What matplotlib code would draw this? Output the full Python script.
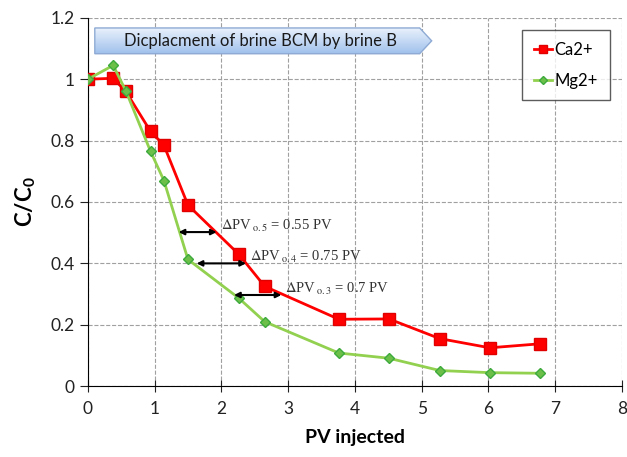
import matplotlib
matplotlib.use("Agg")
import matplotlib.pyplot as plt
import numpy as np
from matplotlib.patches import Polygon

plt.rcParams["font.family"] = ["Lato", "DejaVu Sans"]
plt.rcParams["mathtext.fontset"] = "custom"
plt.rcParams["mathtext.rm"] = "Lato"
plt.rcParams["mathtext.bf"] = "Lato:bold"

# 注入体积与浓度比
pv = [0, 0.38, 0.57, 0.94, 1.14, 1.5, 2.26, 2.65, 3.76, 4.51, 5.27, 6.02, 6.77]
ca = [1.0, 1.003, 0.96, 0.83, 0.785, 0.59, 0.43, 0.325, 0.218, 0.219, 0.155, 0.125, 0.138]
mg = [1.0, 1.045, 0.962, 0.765, 0.67, 0.413, 0.287, 0.21, 0.108, 0.091, 0.051, 0.044, 0.042]

# 浓度差箭头：(y, x起点, x终点, 文字)
arrows = [
    (0.502, 1.36, 1.93, r"$\Delta$PV$\,_{\mathrm{o.5}}$ = 0.55 PV"),
    (0.40, 1.63, 2.37, r"$\Delta$PV$\,_{\mathrm{o.4}}$ = 0.75 PV"),
    (0.297, 2.19, 2.90, r"$\Delta$PV$\,_{\mathrm{o.3}}$ = 0.7 PV"),
]

fig = plt.figure(figsize=(6.27, 4.57), dpi=100)
ax = fig.add_axes([0.140, 0.155, 0.852, 0.806])

ax.plot(pv, ca, color="#ff0000", lw=2, marker="s", ms=8,
        mfc="#ff0000", mec="#e00000", label="Ca2+", zorder=3)
ax.plot(pv, mg, color="#92d050", lw=2, marker="D", ms=5,
        mfc="#6cc04a", mec="#3daa3d", label="Mg2+", zorder=4)

for y, x0, x1, txt in arrows:
    ax.annotate("", xy=(x0, y), xytext=(x1, y),
                arrowprops=dict(arrowstyle="<|-|>", color="black", lw=1.5,
                                mutation_scale=8, shrinkA=0, shrinkB=0),
                zorder=5)
    ax.text(x1 + 0.06, y + 0.02, txt, fontsize=10.5, color="#333333",
            family="Liberation Serif", math_fontfamily="stix",
            ha="left", va="center", zorder=5)

# 顶部蓝色渐变箭头框
bx0, bx1, tip = 0.105, 4.97, 5.15
by0, by1 = 1.083, 1.167
pts = [(bx0, by0), (bx1, by0), (tip, (by0 + by1) / 2), (bx1, by1), (bx0, by1)]
shape = Polygon(pts, closed=True, facecolor="none", edgecolor="#8eaad4",
                lw=1, zorder=6)
ax.add_patch(shape)
grad = np.linspace(0, 1, 64).reshape(-1, 1)
cmap = matplotlib.colors.LinearSegmentedColormap.from_list(
    "banner", ["#9fc0ec", "#e9f1fc"])
img = ax.imshow(grad, extent=[bx0, tip, by0, by1], origin="lower",
                cmap=cmap, aspect="auto", zorder=5)
img.set_clip_path(shape)
ax.text((bx0 + bx1) / 2 + 0.05, (by0 + by1) / 2, "Dicplacment of brine BCM by brine B",
        fontsize=12, color="#1a1a1a", ha="center", va="center", zorder=7)

ax.set_xlim(0, 8)
ax.set_ylim(0, 1.2)
ax.set_xticks(range(0, 9))
ax.set_yticks([0, 0.2, 0.4, 0.6, 0.8, 1, 1.2])
ax.set_yticklabels(["0", "0.2", "0.4", "0.6", "0.8", "1", "1.2"])
ax.tick_params(axis="both", labelsize=12.5, colors="#222222")
ax.tick_params(axis="x", direction="inout", length=8, pad=7)
ax.tick_params(axis="y", direction="out", length=6)
ax.grid(True, ls="--", color="#a0a0a0", lw=0.8)
ax.set_axisbelow(True)
ax.spines["top"].set_visible(False)
ax.spines["right"].set_visible(False)
ax.set_xlabel("PV injected", fontsize=14, fontweight="bold", labelpad=8)
ax.set_ylabel(r"$\mathbf{C/C_0}$", fontsize=16, labelpad=9)

leg = ax.legend(loc="upper right", bbox_to_anchor=(0.977, 0.967),
                fontsize=12, frameon=True, fancybox=False, edgecolor="#333333",
                labelspacing=0.9, handlelength=1.1, handletextpad=0.15,
                borderpad=0.7, borderaxespad=0, markerscale=0.8)
leg.get_frame().set_linewidth(1)

fig.savefig("out.png", dpi=100)
